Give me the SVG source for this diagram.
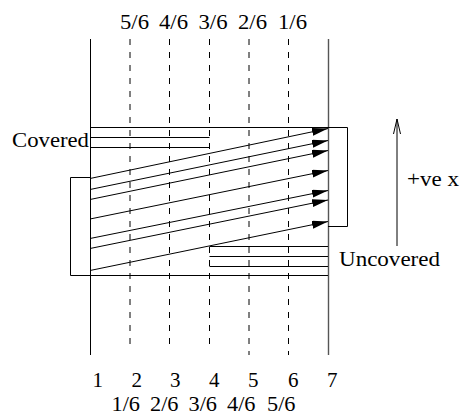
<svg xmlns="http://www.w3.org/2000/svg" width="462" height="417" viewBox="0 0 462 417">
<style>
.ln{stroke:#000;stroke-width:1;fill:none}
.ds{stroke:#000;stroke-width:1;stroke-dasharray:6 7;fill:none}
.ar{stroke:#000;stroke-width:1;fill:none;marker-end:url(#ah)}
text{font-family:"Liberation Serif","Times New Roman",serif;font-size:21px;fill:#000}
</style>
<defs>
<marker id="ah" markerUnits="userSpaceOnUse" markerWidth="18" markerHeight="10" refX="16" refY="4" orient="auto">
<path d="M0,0 L16,4 L0,8 z" fill="#000"/>
</marker>
</defs>
<rect width="462" height="417" fill="#fff"/>
<g id="grid">
<line class="ln" x1="90.5" y1="39" x2="90.5" y2="355"/>
<line class="ds" x1="130" y1="39" x2="130" y2="348"/>
<line class="ds" x1="169.5" y1="39" x2="169.5" y2="348"/>
<line class="ds" x1="209.5" y1="39" x2="209.5" y2="348"/>
<line class="ds" x1="249" y1="39" x2="249" y2="355"/>
<line class="ds" x1="288.5" y1="39" x2="288.5" y2="355"/>
<line x1="328.5" y1="39" x2="328.5" y2="355" stroke="#555" stroke-width="1.4"/>
</g>
<g id="cells">
<polyline class="ln" points="90,127.5 347.5,127.5 347.5,226.5 328,226.5"/>
<line class="ln" x1="90" y1="137.5" x2="209.5" y2="137.5"/>
<line class="ln" x1="90" y1="147.5" x2="209.5" y2="147.5"/>
<polyline class="ln" points="90,177.5 70.5,177.5 70.5,275.5 328,275.5"/>
<line class="ln" x1="209.5" y1="246.5" x2="328" y2="246.5"/>
<line class="ln" x1="209.5" y1="256.5" x2="328" y2="256.5"/>
<line class="ln" x1="209.5" y1="266.5" x2="328" y2="266.5"/>
</g>
<g id="connectors">
<line class="ar" x1="90" y1="178.5" x2="328" y2="128.5"/>
<line class="ar" x1="90" y1="189.5" x2="328" y2="140.5"/>
<line class="ar" x1="90" y1="199.5" x2="328" y2="150.5"/>
<line class="ar" x1="90" y1="219" x2="328" y2="170.5"/>
<line class="ar" x1="90" y1="238.5" x2="328" y2="190.5"/>
<line class="ar" x1="90" y1="248.5" x2="328" y2="200"/>
<line class="ar" x1="90" y1="270.5" x2="328" y2="221.5"/>
<line class="ln" x1="397" y1="246" x2="397" y2="119"/>
<polyline class="ln" points="393.5,134 397,119 400.5,134"/>
</g>
<g id="labels">
<text x="120" y="29" textLength="29" lengthAdjust="spacingAndGlyphs">5/6</text>
<text x="159" y="29" textLength="29" lengthAdjust="spacingAndGlyphs">4/6</text>
<text x="198.5" y="29" textLength="29" lengthAdjust="spacingAndGlyphs">3/6</text>
<text x="238" y="29" textLength="29" lengthAdjust="spacingAndGlyphs">2/6</text>
<text x="278" y="29" textLength="29" lengthAdjust="spacingAndGlyphs">1/6</text>
<text x="12" y="147" textLength="77" lengthAdjust="spacingAndGlyphs">Covered</text>
<text x="339" y="266" textLength="101" lengthAdjust="spacingAndGlyphs">Uncovered</text>
<text x="407" y="186" textLength="52" lengthAdjust="spacingAndGlyphs">+ve x</text>
<text x="92.5" y="387">1</text>
<text x="131.5" y="387">2</text>
<text x="170" y="387">3</text>
<text x="209" y="387">4</text>
<text x="248" y="387">5</text>
<text x="288" y="387">6</text>
<text x="327" y="387">7</text>
<text x="111.5" y="411" textLength="28.5" lengthAdjust="spacingAndGlyphs">1/6</text>
<text x="150" y="411" textLength="28.5" lengthAdjust="spacingAndGlyphs">2/6</text>
<text x="188.5" y="411" textLength="28.5" lengthAdjust="spacingAndGlyphs">3/6</text>
<text x="227" y="411" textLength="28.5" lengthAdjust="spacingAndGlyphs">4/6</text>
<text x="267" y="411" textLength="28.5" lengthAdjust="spacingAndGlyphs">5/6</text>
</g>
</svg>
